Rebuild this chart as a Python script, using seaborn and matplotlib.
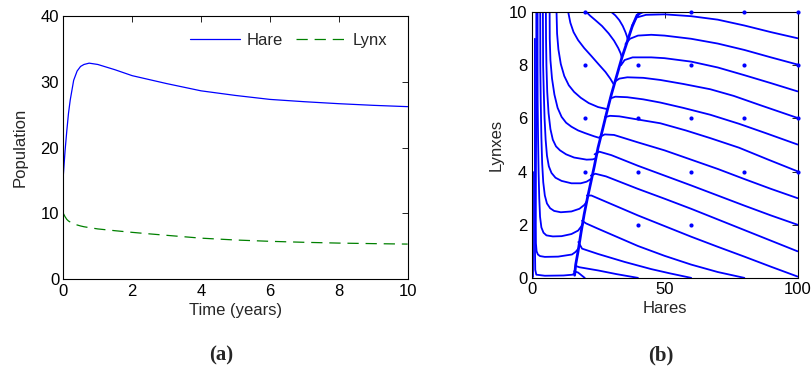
import numpy as np
import pandas as pd
import matplotlib
matplotlib.use("Agg")
import matplotlib.pyplot as plt
import seaborn as sns

sns.set_theme(style="white")
plt.rcParams["font.family"] = ["Liberation Sans", "DejaVu Sans"]
plt.rcParams.update({"axes.edgecolor": "black", "axes.linewidth": 0.8,
                     "xtick.color": "black", "ytick.color": "black"})

BLUE = "#0000ff"
GREEN = "#008000"

# (a) time series
time_years = [0, 0.05, 0.1, 0.15, 0.2, 0.3, 0.4, 0.5, 0.6, 0.75, 1.0, 1.5,
              2, 2.5, 3, 4, 5, 6, 7, 8, 9, 10]
hare = [15.8, 19.5, 22.5, 25.2, 27.2, 30.2, 31.6, 32.3, 32.6, 32.8, 32.6, 31.8,
        30.9, 30.3, 29.7, 28.6, 27.9, 27.3, 26.95, 26.65, 26.4, 26.2]
lynx = [10, 9.5, 9.1, 8.85, 8.7, 8.45, 8.25, 8.1, 7.98, 7.85, 7.65, 7.38,
        7.13, 6.9, 6.68, 6.25, 5.97, 5.77, 5.62, 5.5, 5.42, 5.35]

# (b) phase plane: the line the trajectories collapse onto
spine_x = [16.2, 16.6, 17.5, 18.6, 19.8, 21.0, 22.3, 23.6, 25.0, 26.5, 28.2,
           30.0, 32.0, 34.0, 36.0, 37.8, 39.5, 41.0]
spine_y = [0.1, 0.5, 1.0, 1.7, 2.4, 3.0, 3.6, 4.2, 4.9, 5.5, 6.2,
           6.9, 7.6, 8.3, 8.9, 9.45, 9.85, 10.0]

# trajectories left of the spine
left_x = [
    [0.7, 0.7],
    [1.27, 1.27, 1.3, 1.4, 1.8, 5, 12, 15.5, 16.2],
    [1.8, 1.8, 1.75, 1.65, 1.6, 1.65, 1.9, 2.4, 3.2, 5, 10, 15.2, 16.6, 17.6],
    [2.27, 2.27, 2.3, 2.45, 2.65, 2.9, 3.2, 3.7, 4.5, 5.6, 8, 11.3, 15, 17.5, 19.2],
    [3.27, 3.3, 3.45, 3.7, 4.0, 4.4, 5.0, 5.8, 7.0, 8.5, 11, 15, 18, 19.9, 20.9],
    [4.27, 4.35, 4.6, 4.9, 5.3, 5.8, 6.5, 7.5, 9.0, 11.3, 15, 18.5, 20.7, 22.3],
    [5.4, 5.45, 5.6, 5.9, 6.4, 7.1, 8.0, 9.2, 10.7, 13, 16, 20.7, 23, 24.2],
    [6.8, 6.85, 7.1, 7.7, 8.6, 9.8, 11.3, 13, 15, 17.5, 20.1, 23.5, 25.8],
    [9.4, 9.6, 10.1, 11, 12.3, 14, 16, 18.5, 21.5, 25, 28.5],
    [13.8, 14.6, 15.8, 17.5, 19.8, 22.5, 25.3, 27.8, 29.6, 30.8],
    [20.7, 22, 24, 26.5, 29, 31, 32.6, 33.5, 33.9],
    [30.1, 31.5, 33, 34.3, 35.3, 35.9, 36.2],
]
left_y = [
    [4.0, 0.05],
    [9.0, 5.0, 1.0, 0.3, 0.12, 0.08, 0.09, 0.12, 0.2],
    [10, 8, 6, 4, 2, 1.3, 1.0, 0.88, 0.82, 0.79, 0.8, 0.88, 0.98, 1.1],
    [10, 8, 6.69, 5.3, 4.0, 3.0, 2.3, 1.9, 1.7, 1.6, 1.56, 1.57, 1.65, 1.78, 2.0],
    [10, 8, 6.69, 5.3, 4.3, 3.6, 3.1, 2.8, 2.62, 2.52, 2.47, 2.5, 2.6, 2.75, 2.9],
    [10, 8, 7.0, 6.0, 5.2, 4.6, 4.2, 3.95, 3.77, 3.65, 3.56, 3.56, 3.62, 3.72],
    [10, 9, 8, 7.0, 6.2, 5.6, 5.2, 4.95, 4.8, 4.65, 4.53, 4.45, 4.46, 4.5],
    [10, 9, 8.2, 7.5, 6.9, 6.4, 6.06, 5.84, 5.69, 5.55, 5.45, 5.33, 5.26],
    [10, 9.2, 8.6, 8.05, 7.6, 7.25, 7.0, 6.78, 6.58, 6.43, 6.35],
    [10, 9.6, 9.25, 8.95, 8.65, 8.35, 8.03, 7.75, 7.5, 7.3],
    [10, 9.87, 9.7, 9.48, 9.2, 8.93, 8.65, 8.45, 8.3],
    [10, 9.88, 9.7, 9.48, 9.25, 9.08, 8.95],
]

# trajectories right of the spine
right_x = [
    [37.8, 39.5, 43, 50, 60, 70, 80, 90, 100],
    [35.3, 37, 40, 45, 50, 60, 70, 80, 90, 100],
    [33.6, 35, 38, 45, 50, 60, 70, 80, 90, 100],
    [31.5, 33, 36, 42, 48.4, 57, 67.2, 76, 86, 100],
    [29.5, 31.5, 36, 42, 48.4, 57, 67.2, 78, 88, 100],
    [27.6, 29.5, 33, 40, 48.4, 58, 67.2, 78, 89, 100],
    [25.6, 27.5, 31, 40, 50, 60, 70, 80, 90, 100],
    [23.7, 25.5, 30, 40, 50, 60, 70, 80, 90, 100],
    [22.3, 24, 28, 40, 50, 60, 70, 80, 90, 100],
    [20.8, 22.5, 26, 40, 50, 60, 70, 80, 90, 100],
    [19.0, 20.5, 25, 40, 50, 60, 70, 80],
    [17.6, 19, 25, 35, 45, 52, 60],
    [16.6, 18, 25, 32, 40],
    [16.0, 17.5, 20],
    [39.5, 42, 48],
]
right_y = [
    [9.5, 9.8, 9.9, 9.92, 9.85, 9.72, 9.5, 9.25, 9.02],
    [8.8, 9.0, 9.12, 9.15, 9.12, 9.0, 8.82, 8.58, 8.3, 8.03],
    [8.0, 8.2, 8.3, 8.3, 8.27, 8.14, 7.92, 7.63, 7.33, 7.02],
    [7.4, 7.5, 7.55, 7.53, 7.45, 7.3, 7.1, 6.85, 6.5, 6.02],
    [6.75, 6.82, 6.8, 6.72, 6.6, 6.4, 6.14, 5.8, 5.45, 5.02],
    [6.05, 6.1, 6.08, 5.96, 5.82, 5.55, 5.26, 4.9, 4.45, 4.01],
    [5.3, 5.4, 5.38, 5.1, 4.8, 4.45, 4.1, 3.72, 3.35, 3.0],
    [4.65, 4.75, 4.62, 4.22, 3.85, 3.48, 3.1, 2.72, 2.35, 2.0],
    [3.85, 3.92, 3.82, 3.35, 2.98, 2.6, 2.2, 1.8, 1.4, 1.0],
    [3.1, 3.1, 2.95, 2.35, 1.95, 1.55, 1.17, 0.8, 0.42, 0.05],
    [2.15, 2.05, 1.85, 1.2, 0.83, 0.5, 0.22, 0.0],
    [1.35, 1.1, 0.9, 0.6, 0.33, 0.17, 0.0],
    [0.45, 0.4, 0.28, 0.14, 0.0],
    [0.25, 0.2, 0.0],
    [9.9, 10.0, 10.0],
]

dot_x = [20, 20, 20, 20, 40, 40, 40, 40, 60, 60, 60, 60, 60,
         80, 80, 80, 80, 100, 100, 100, 100]
dot_y = [10, 8, 6, 4, 8, 6, 4, 2, 10, 8, 6, 4, 2,
         10, 8, 6, 4, 10, 8, 6, 4]

fig = plt.figure(figsize=(8.12, 3.70), dpi=100)
ax1 = fig.add_axes([0.078, 0.245, 0.424, 0.7126])
ax2 = fig.add_axes([0.6546, 0.249, 0.3276, 0.718])

# ---- (a)
df_a = pd.DataFrame({"t": time_years, "Hare": hare, "Lynx": lynx})
sns.lineplot(data=df_a, x="t", y="Hare", ax=ax1, color=BLUE, lw=0.9, label="Hare")
sns.lineplot(data=df_a, x="t", y="Lynx", ax=ax1, color=GREEN, lw=0.9, label="Lynx")
ax1.lines[1].set_dashes((9, 5.5))
ax1.set_xlim(0, 10)
ax1.set_ylim(0, 40)
ax1.set_xticks([0, 2, 4, 6, 8, 10])
ax1.set_yticks([0, 10, 20, 30, 40])
ax1.set_xlabel("Time (years)", fontsize=12, labelpad=3)
ax1.set_ylabel("Population", fontsize=12, labelpad=9)
leg = ax1.legend(loc="upper right", ncol=2, frameon=False, fontsize=12,
                 handlelength=3.0, columnspacing=0.8, handletextpad=0.4,
                 bbox_to_anchor=(0.985, 0.99))
for h in leg.get_lines():
    h.set_linewidth(0.9)
leg.get_lines()[1].set_dashes((9, 5.5))

# ---- (b)
sns.lineplot(x=spine_x, y=spine_y, ax=ax2, color=BLUE, lw=2.0, sort=False, estimator=None)
for xs, ys in zip(left_x, left_y):
    sns.lineplot(x=xs, y=ys, ax=ax2, color=BLUE, lw=1.3, sort=False, estimator=None)
for xs, ys in zip(right_x, right_y):
    sns.lineplot(x=xs, y=ys, ax=ax2, color=BLUE, lw=1.3, sort=False, estimator=None)
ax2.scatter(dot_x, dot_y, s=9, color=BLUE, marker="o", linewidths=0, clip_on=False, zorder=3)
ax2.set_xlim(0, 100)
ax2.set_ylim(0, 10)
ax2.set_xticks([0, 50, 100])
ax2.set_yticks([0, 2, 4, 6, 8, 10])
ax2.set_xlabel("Hares", fontsize=12, labelpad=3)
ax2.set_ylabel("Lynxes", fontsize=12, labelpad=4)

for ax in (ax1, ax2):
    ax.tick_params(direction="in", top=True, right=True, length=4, width=0.6,
                   labelsize=12, pad=3)
    for s in ax.spines.values():
        s.set_visible(True)
        s.set_color("black")
        s.set_linewidth(0.8)

fig.text(0.273, 0.038, "(a)", ha="center", va="center", fontsize=15,
         fontweight="bold", family=["Liberation Serif", "DejaVu Serif"])
fig.text(0.814, 0.038, "(b)", ha="center", va="center", fontsize=15,
         fontweight="bold", family=["Liberation Serif", "DejaVu Serif"])

fig.savefig("out.png", dpi=100)
